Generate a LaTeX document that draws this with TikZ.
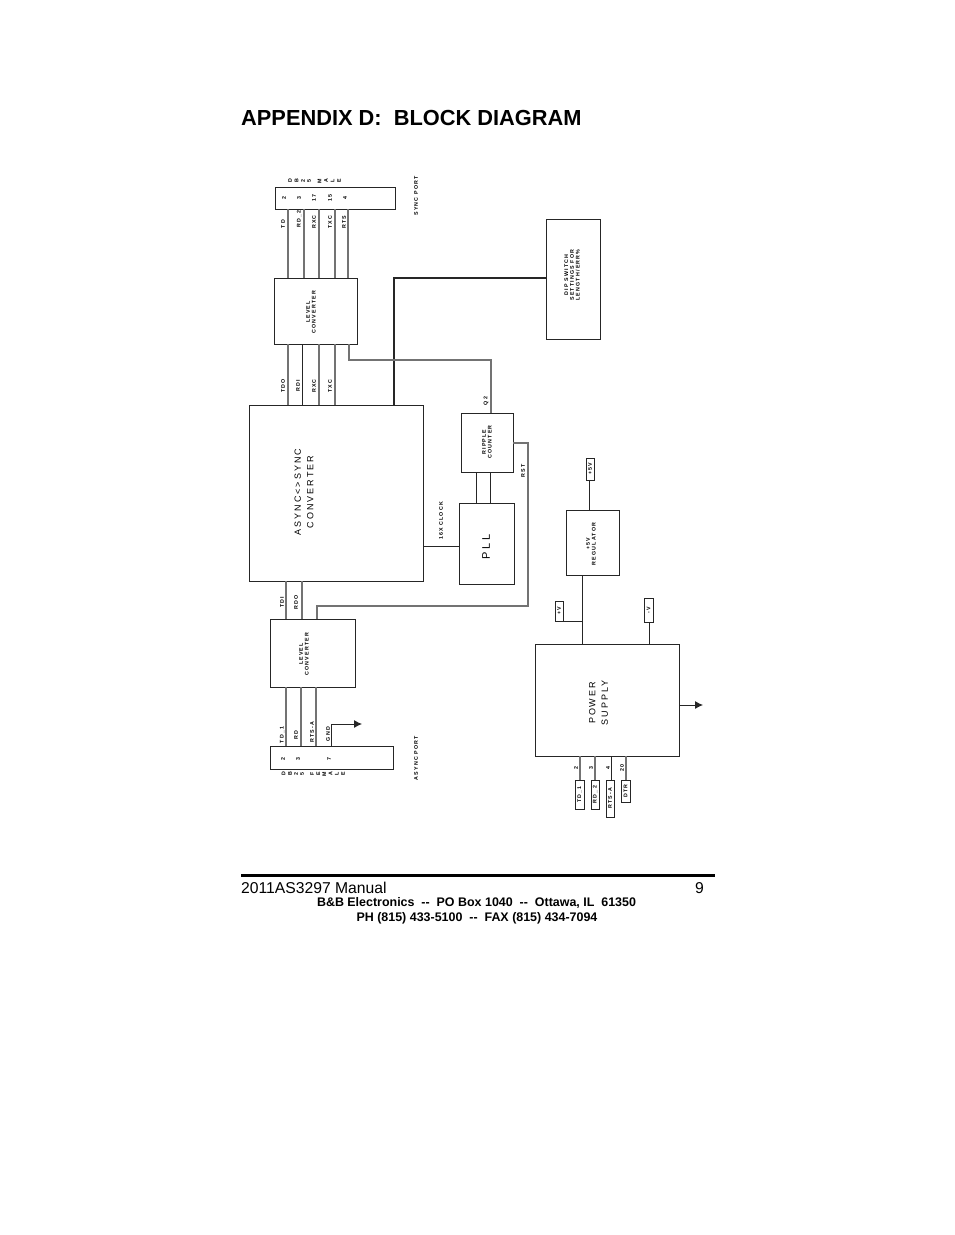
\documentclass[tikz,border=0pt]{standalone}
\usepackage{fontspec}
\setmainfont{Liberation Sans}
\newfontfamily\widefont[LetterSpace=22]{Liberation Sans}
\usetikzlibrary{arrows.meta}
\tikzset{
 blk/.style={draw=black!85,line width=1pt,inner sep=0pt,outer sep=0pt},
 wire/.style={draw=black!55,line width=1.3pt},
 thinwire/.style={draw=black!85,line width=0.9pt},
 lbl/.style={rotate=90,inner sep=0pt,align=center,font=\widefont\bfseries\fontsize{5.3}{5.8}\selectfont},
 biglbl/.style={rotate=90,inner sep=0pt,align=center,font=\widefont\fontsize{9}{12.5}\selectfont},
 ftr/.style={inner sep=0pt,font=\bfseries\fontsize{12.45}{14}\selectfont},
}
\begin{document}
\begin{tikzpicture}[>={Latex[length=8pt,width=8pt]},x=1pt,y=-1pt]
\useasboundingbox (0,0) rectangle (954,1235);
\node[inner sep=0pt,anchor=base west,font=\bfseries\fontsize{21.8}{24}\selectfont] (title) at (241,125) {APPENDIX D:\ \ BLOCK DIAGRAM};
\node[blk,minimum width=120pt,minimum height=22pt] (sync) at (335,198) {};
\node[blk,minimum width=83pt,minimum height=66pt] (lvlA) at (315.5,311) {};
\node[blk,minimum width=174pt,minimum height=176pt] (conv) at (336,493) {};
\node[blk,minimum width=54pt,minimum height=120pt] (dip) at (573,279) {};
\node[blk,minimum width=52pt,minimum height=59pt] (ripple) at (487,442.5) {};
\node[blk,minimum width=55pt,minimum height=81pt] (pll) at (486.5,543.5) {};
\node[blk,minimum width=85pt,minimum height=68pt] (lvlB) at (312.5,653) {};
\node[blk,minimum width=123pt,minimum height=23pt] (async) at (331.5,757.5) {};
\node[blk,minimum width=53pt,minimum height=65pt] (reg) at (592.5,542.5) {};
\node[blk,minimum width=144pt,minimum height=112pt] (psu) at (607,700) {};
\node[blk,minimum width=8pt,minimum height=22pt] (pfive) at (590,469) {};
\node[blk,minimum width=8pt,minimum height=20pt] (pv) at (559,611) {};
\node[blk,minimum width=9pt,minimum height=24pt] (mv) at (648.5,610) {};
\node[blk,minimum width=9pt,minimum height=29pt] (tdone) at (579.5,794.5) {};
\node[blk,minimum width=8pt,minimum height=29pt] (rdtwo) at (595,794.5) {};
\node[blk,minimum width=8pt,minimum height=37pt] (rtsa) at (610,798.5) {};
\node[blk,minimum width=9pt,minimum height=22pt] (dtr) at (625.5,791) {};
\coordinate (gndend) at (362,724);
\coordinate (psuend) at (703,705);
\coordinate (vjoin) at (582,621);
\foreach \x in {288,304,319,335,348}
 \draw[wire] (sync.south -| \x,0) -- (lvlA.north -| \x,0);
\foreach \x in {288,319,335}
 \draw[wire] (lvlA.south -| \x,0) -- (conv.north -| \x,0);
\draw[thinwire] (lvlA.south -| 302,0) -- (conv.north -| 302,0);
\foreach \x in {286,302}
 \draw[wire] (conv.south -| \x,0) -- (lvlB.north -| \x,0);
\foreach \x in {286,301,316}
 \draw[wire] (lvlB.south -| \x,0) -- (async.north -| \x,0);
\draw[thinwire,line width=1.5pt] (conv.north -| 394,0) |- (dip.west |- 0,278);
\draw[wire] (lvlA.south -| 349,0) |- (491,360) -- (ripple.north -| 491,0);
\draw[thinwire] (ripple.south -| 476,0) -- (pll.north -| 476,0);
\draw[thinwire] (ripple.south -| 490,0) -- (pll.north -| 490,0);
\draw[thinwire] (conv.east |- 0,546) -- (pll.west |- 0,546);
\draw[wire] (ripple.east |- 0,443) -| (528,606) -| (lvlB.north -| 317,0);
\draw[thinwire,->] (async.north -| 331,0) |- (gndend);
\draw[thinwire] (pfive.south -| 589,0) -- (reg.north -| 589,0);
\draw[thinwire] (reg.south -| 582,0) -- (psu.north -| 582,0);
\draw[thinwire] (pv.south east) -- (vjoin);
\draw[thinwire] (mv.south -| 649,0) -- (psu.north -| 649,0);
\draw[thinwire,->] (psu.east |- psuend) -- (psuend);
\draw[wire] (psu.south -| 580,0) -- (tdone.north -| 580,0);
\draw[wire] (psu.south -| 595,0) -- (rdtwo.north);
\draw[thinwire] (psu.south -| 611,0) -- (rtsa.north -| 611,0);
\draw[wire] (psu.south -| 626,0) -- (dtr.north -| 626,0);
\foreach \x/\c in {290/D,296.5/B,303/2,309/5,319.5/M,326/A,332.5/L,339/E}
 \node[lbl] (s\c) at (\x,181) {\c};
\foreach \x/\c in {283.5/D,290/B,296/2,302/5,312/F,318.2/E,324.4/M,330.6/A,336.8/L,343/E}
 \node[lbl] at (\x,774) {\c};
\node[lbl] (syncport) at (416,196) {SYNC PORT};
\node[lbl] (asyncport) at (416,758) {ASYNC PORT};
\foreach \x/\c in {284/2,299/3,314/17,330/15,345/4}
 \node[lbl] at (\x,198) {\c};
\foreach \x/\y/\c in {283/224/TD,299/219/RD\_2,314/222/RXC,330/222/TXC,344/222/RTS,283/386/TDO,298/386/RDI,314/386/RXC,330/386/TXC,282/602/TDI,296/602/RDO,282/735/TD\_1,296/735/RD,312/732/RTS-A,328/734/GND,441/521/16X CLOCK,486/401/Q2,523/471/RST}
 \node[lbl] at (\x,\y) {\c};
\foreach \x/\c in {283/2,298/3,329/7}
 \node[lbl] at (\x,759) {\c};
\foreach \x/\c in {576/2,591/3,608/4,622/20}
 \node[lbl] at (\x,768) {\c};
\node[lbl] (lvlAtxt) at (311,312) {LEVEL\\CONVERTER};
\node[lbl] (lvlBtxt) at (304,654) {LEVEL\\CONVERTER};
\node[lbl] (rippletxt) at (487,442) {RIPPLE\\COUNTER};
\node[lbl] (regtxt) at (591,544) {+5V\\REGULATOR};
\node[lbl] (diptxt) at (572,275) {DIP SWITCH\\SETTINGS FOR\\LENGTH/ERR\%};
\node[lbl] at (pfive) {+5V};
\node[lbl] at (pv) {+V};
\node[lbl] at (mv) {-V};
\node[lbl] at (tdone) {TD\_1};
\node[lbl] at (rdtwo) {RD\_2};
\node[lbl] at (rtsa) {RTS-A};
\node[lbl] at (dtr) {DTR};
\node[biglbl] (convtxt) at (304,492) {ASYNC<>SYNC\\CONVERTER};
\node[biglbl,font=\widefont\fontsize{11}{13}\selectfont] (plltxt) at (486,547) {PLL};
\node[biglbl] (psutxt) at (598.5,703) {POWER\\SUPPLY};
\draw[black,line width=3pt] (241,875) -- (715,875);
\node[inner sep=0pt,anchor=base west,font=\fontsize{15.7}{18}\selectfont] (manual) at (241,893) {2011AS3297 Manual};
\node[inner sep=0pt,anchor=base east,font=\fontsize{15.7}{18}\selectfont] (pageno) at (704,893) {9};
\node[ftr] (addr) at (476.5,903) {B\&B Electronics\ \ -{}-\ \ PO Box 1040\ \ -{}-\ \ Ottawa, IL\ \ 61350};
\node[ftr] (phone) at (477,918) {PH (815) 433-5100\ \ -{}-\ \ FAX (815) 434-7094};
\end{tikzpicture}
\end{document}
